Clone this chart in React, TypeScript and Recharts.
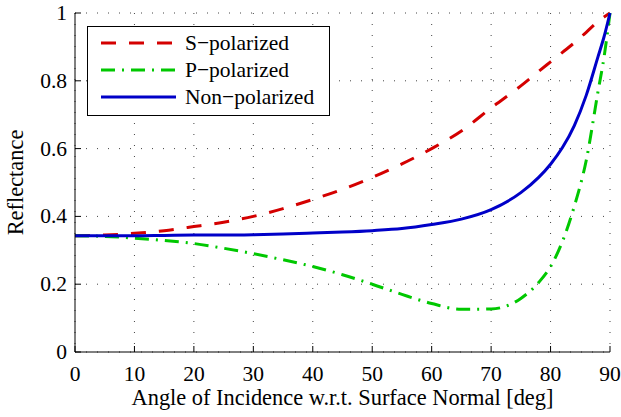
import { LineChart, Line, XAxis, YAxis, CartesianGrid } from 'recharts';

// angle of incidence (deg)
const angles = [0, 5, 10, 15, 20, 25, 30, 35, 40, 45, 50, 55, 60, 65, 70, 75, 78, 80, 82, 84, 86, 88, 89, 90];
const sPolarized = [0.343, 0.345, 0.35, 0.358, 0.37, 0.383, 0.4, 0.423, 0.45, 0.48, 0.515, 0.555, 0.6, 0.652, 0.72, 0.785, 0.828, 0.856, 0.884, 0.912, 0.943, 0.975, 0.988, 1.0];
const pPolarized = [0.343, 0.341, 0.336, 0.329, 0.32, 0.306, 0.29, 0.272, 0.252, 0.228, 0.2, 0.17, 0.143, 0.126, 0.127, 0.158, 0.205, 0.252, 0.326, 0.43, 0.565, 0.77, 0.87, 1.0];
const nonPolarized = [0.343, 0.343, 0.343, 0.344, 0.345, 0.345, 0.346, 0.348, 0.351, 0.354, 0.358, 0.364, 0.376, 0.392, 0.42, 0.47, 0.515, 0.554, 0.603, 0.668, 0.757, 0.872, 0.93, 1.0];

const xTicks = [0, 10, 20, 30, 40, 50, 60, 70, 80, 90];
const yTicks = [0, 0.2, 0.4, 0.6, 0.8, 1];

const data = angles.map((a, i) => ({
  angle: a,
  s: sPolarized[i],
  p: pPolarized[i],
  n: nonPolarized[i],
}));

const FONT = 'Times New Roman';

const SERIES = [
  { key: 's', name: 'S\u2212polarized', color: '#d40000', dash: '15 13' },
  { key: 'p', name: 'P\u2212polarized', color: '#00c800', dash: '14 7 2 7' },
  { key: 'n', name: 'Non\u2212polarized', color: '#0000c8', dash: undefined },
];

const BottomTick = (props: any) => {
  const { x, y, payload } = props;
  return (
    <g>
      <line x1={x} x2={x} y1={y} y2={y - 6} stroke="#000" />
      <text x={x} y={y + 29} textAnchor="middle" fontSize={21.5} fontFamily={FONT} fill="#000">
        {payload.value}
      </text>
    </g>
  );
};

const LeftTick = (props: any) => {
  const { x, y, payload } = props;
  return (
    <g>
      <line x1={x} x2={x + 6} y1={y} y2={y} stroke="#000" />
      <text x={x - 8} y={y + 7} textAnchor="end" fontSize={21.5} fontFamily={FONT} fill="#000">
        {payload.value}
      </text>
    </g>
  );
};

const TopTick = (props: any) => {
  const { x, y } = props;
  return <line x1={x} x2={x} y1={y} y2={y + 6} stroke="#000" />;
};

const RightTick = (props: any) => {
  const { x, y } = props;
  return <line x1={x} x2={x - 6} y1={y} y2={y} stroke="#000" />;
};

export default function App() {
  return (
    <div style={{ position: 'relative', width: 621, height: 417 }}>
      <style>{'body{margin:0}'}</style>
      <LineChart width={621} height={417} data={data} margin={{ top: 13, right: 11, bottom: 0, left: 0 }}>
        <CartesianGrid stroke="#444" strokeDasharray="1 10" />
        <XAxis
          dataKey="angle"
          type="number"
          domain={[0, 90]}
          ticks={xTicks}
          interval={0}
          height={65}
          tickSize={0}
          tickMargin={0}
          axisLine={{ stroke: '#000' }}
          tick={<BottomTick />}
          label={{
            content: (p: any) => {
              const vb = p.viewBox || { x: 75, y: 352, width: 535, height: 65 };
              return (
                <text x={vb.x + vb.width / 2} y={vb.y + vb.height - 12} textAnchor="middle" fontSize={22.4} fontFamily={FONT} fill="#000">
                  Angle of Incidence w.r.t. Surface Normal [deg]
                </text>
              );
            },
          }}
        />
        <XAxis
          xAxisId="top"
          orientation="top"
          type="number"
          domain={[0, 90]}
          ticks={xTicks}
          interval={0}
          height={0}
          tickSize={0}
          tickMargin={0}
          axisLine={{ stroke: '#000' }}
          tick={<TopTick />}
        />
        <YAxis
          type="number"
          domain={[0, 1]}
          ticks={yTicks}
          interval={0}
          width={75}
          tickSize={0}
          tickMargin={0}
          axisLine={{ stroke: '#000' }}
          tick={<LeftTick />}
          label={{
            content: (p: any) => {
              const vb = p.viewBox || { x: 0, y: 13, width: 75, height: 339 };
              const cx = 23;
              const cy = vb.y + vb.height / 2;
              return (
                <text x={cx} y={cy} transform={`rotate(-90 ${cx} ${cy})`} textAnchor="middle" fontSize={22.4} fontFamily={FONT} fill="#000">
                  Reflectance
                </text>
              );
            },
          }}
        />
        <YAxis
          yAxisId="right"
          orientation="right"
          type="number"
          domain={[0, 1]}
          ticks={yTicks}
          interval={0}
          width={0}
          tickSize={0}
          tickMargin={0}
          axisLine={{ stroke: '#000' }}
          tick={<RightTick />}
        />
        {SERIES.map((s) => (
          <Line
            key={s.key}
            type="monotone"
            dataKey={s.key}
            name={s.name}
            stroke={s.color}
            strokeWidth={3}
            strokeDasharray={s.dash}
            dot={false}
            activeDot={false}
            isAnimationActive={false}
          />
        ))}
      </LineChart>
      <svg width={621} height={417} style={{ position: 'absolute', left: 0, top: 0, pointerEvents: 'none' }}>
        <rect x={87.5} y={26.5} width={242} height={89} fill="#fff" stroke="#000" />
        {SERIES.map((s, i) => {
          const y = 43 + i * 27;
          return (
            <g key={s.key}>
              <line x1={101} x2={176} y1={y} y2={y} stroke={s.color} strokeWidth={3} strokeDasharray={s.dash} />
              <text x={185} y={y + 7} fontSize={21.5} fontFamily={FONT} fill="#000">
                {s.name}
              </text>
            </g>
          );
        })}
      </svg>
    </div>
  );
}
